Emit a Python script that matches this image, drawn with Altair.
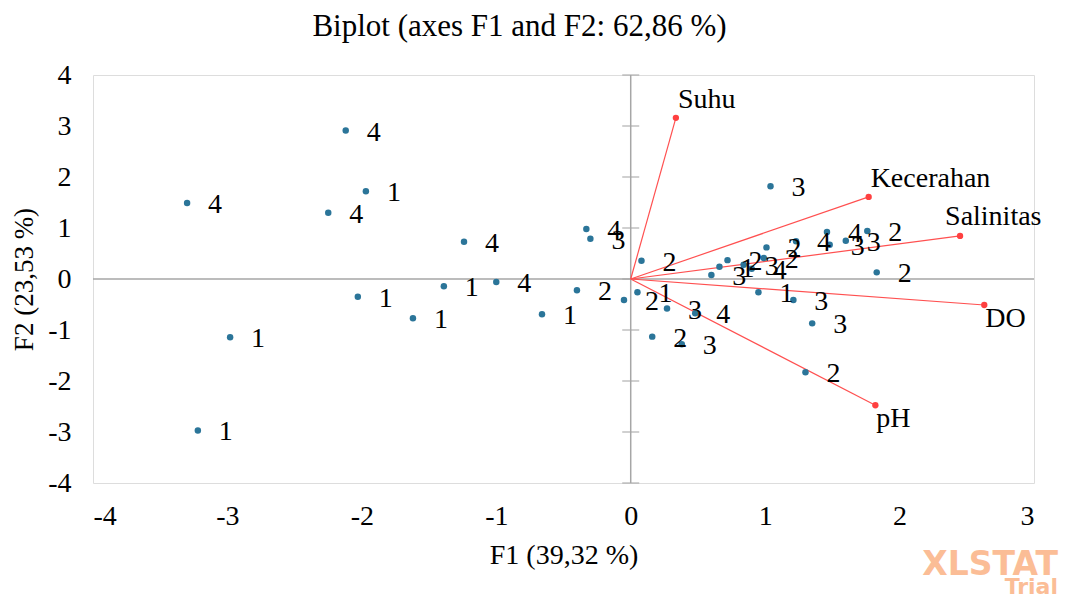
import altair as alt
import pandas as pd

# Observations (F1, F2, label)
obs_f1 = [-3.30, -2.12, -1.97, -2.25, -1.24, -2.03, -1.39, -1.00, -1.62, -2.98,
          -3.22, -0.66, -0.40, -0.33, -0.30, -0.05, 0.05, 0.08, 0.27, 0.48,
          0.16, 0.38, 0.60, 0.66, 0.72, 0.84, 0.90, 0.99, 1.01, 1.23,
          1.46, 1.48, 1.60, 1.76, 1.83, 0.95, 1.21, 1.35, 1.30, 1.04]
obs_f2 = [1.49, 2.91, 1.72, 1.30, 0.73, -0.35, -0.14, -0.06, -0.77, -1.14,
          -2.97, -0.69, -0.22, 0.98, 0.79, -0.41, -0.26, 0.36, -0.58, -0.67,
          -1.13, -1.28, 0.08, 0.24, 0.37, 0.28, 0.20, 0.41, 0.62, 0.74,
          0.92, 0.67, 0.75, 0.94, 0.13, -0.26, -0.41, -0.87, -1.83, 1.82]
obs_label = ["4", "4", "1", "4", "4", "1", "1", "4", "1", "1",
             "1", "1", "2", "4", "3", "2", "1", "2", "3", "4",
             "2", "3", "3", "1", "2", "3", "4", "2", "2", "4",
             "4", "3", "3", "2", "2", "1", "3", "3", "2", "3"]

# Variables (vectors)
var_names = ["Suhu", "Kecerahan", "Salinitas", "DO", "pH"]
var_f1 = [0.336, 1.77, 2.45, 2.63, 1.82]
var_f2 = [3.16, 1.61, 0.845, -0.51, -2.475]

tick_values = [-4, -3, -2, -1, 0, 1, 2, 3]
ytick_values = [-4, -3, -2, -1, 0, 1, 2, 3, 4]

obs = pd.DataFrame({"f1": obs_f1, "f2": obs_f2, "label": obs_label})
var = pd.DataFrame({"name": var_names, "f1": var_f1, "f2": var_f2})
var["x0"] = 0.0
var["y0"] = 0.0

FONT = "Times New Roman, Liberation Serif, serif"
GRID = "#a6a6a6"

xs = alt.Scale(domain=[-4, 3], nice=False, zero=False)
ys = alt.Scale(domain=[-4, 4], nice=False, zero=False)

xaxis = alt.Axis(values=tick_values, grid=False, ticks=False, domain=False,
                 labelExpr="'' + datum.value",
                 labelFont=FONT, labelFontSize=28, labelColor="black",
                 labelPadding=19, title="F1 (39,32 %)", titleFont=FONT,
                 titleFontSize=28, titleFontWeight="normal", titleColor="black",
                 titlePadding=11)
yaxis = alt.Axis(values=ytick_values, grid=False, ticks=False, domain=False,
                 labelExpr="'' + datum.value",
                 labelFont=FONT, labelFontSize=28, labelColor="black",
                 labelPadding=22, title="F2 (23,53 %)", titleFont=FONT,
                 titleFontSize=27, titleFontWeight="normal", titleColor="black",
                 titlePadding=9)

base_obs = alt.Chart(obs)

points = base_obs.mark_circle(size=42, color="#2b7599", opacity=1).encode(
    x=alt.X("f1:Q", scale=xs, axis=xaxis),
    y=alt.Y("f2:Q", scale=ys, axis=yaxis),
)
labels = base_obs.mark_text(font=FONT, fontSize=28, color="black",
                            align="center", baseline="middle", dx=28, dy=2).encode(
    x=alt.X("f1:Q", scale=xs), y=alt.Y("f2:Q", scale=ys), text="label:N")

# zero lines
zero_df = pd.DataFrame({"v": [0]})
vline = alt.Chart(zero_df).mark_rule(color=GRID, strokeWidth=1.5).encode(
    x=alt.X("v:Q", scale=xs))
hline = alt.Chart(zero_df).mark_rule(color=GRID, strokeWidth=1.5).encode(
    y=alt.Y("v:Q", scale=ys))
ticks_df = pd.DataFrame({"y": ytick_values, "x": [0] * len(ytick_values)})
yticks = alt.Chart(ticks_df).mark_tick(color=GRID, orient="horizontal",
                                       size=17, thickness=1.5).encode(
    x=alt.X("x:Q", scale=xs), y=alt.Y("y:Q", scale=ys))

base_var = alt.Chart(var)
vec = base_var.mark_rule(color="#ff5050", strokeWidth=1.2).encode(
    x=alt.X("x0:Q", scale=xs), y=alt.Y("y0:Q", scale=ys),
    x2="f1:Q", y2="f2:Q")
vec_pts = base_var.mark_circle(size=40, color="#ff4040", opacity=1).encode(
    x=alt.X("f1:Q", scale=xs), y=alt.Y("f2:Q", scale=ys))

def vlabel(names, dx, dy):
    return base_var.transform_filter(
        alt.FieldOneOfPredicate(field="name", oneOf=names)
    ).mark_text(font=FONT, fontSize=28, color="black", align="left",
                baseline="middle", dx=dx, dy=dy).encode(
        x=alt.X("f1:Q", scale=xs), y=alt.Y("f2:Q", scale=ys), text="name:N")

vl_up = vlabel(["Suhu", "Kecerahan"], 2, -18)
vl_sal = vlabel(["Salinitas"], -15, -19)
vl_down = vlabel(["DO", "pH"], 1, 14)

wm_df = pd.DataFrame({"t": ["XLSTAT"]})
wm1 = alt.Chart(wm_df).mark_text(font="DejaVu Sans", fontSize=33, fontWeight="bold",
                                  color="#fbbd96", align="right", baseline="middle").encode(
    x=alt.value(965), y=alt.value(490), text="t:N")
wm2 = alt.Chart(pd.DataFrame({"t": ["Trial"]})).mark_text(
    font="DejaVu Sans", fontSize=22, fontWeight="bold", color="#fbbd96",
    align="right", baseline="middle").encode(
    x=alt.value(965), y=alt.value(512), text="t:N")

chart = alt.layer(
    hline, vline, yticks, vec, vec_pts, points, labels, vl_up, vl_sal, vl_down, wm1, wm2
).properties(
    width=941, height=408,
    title=alt.TitleParams("Biplot (axes F1 and F2: 62,86 %)", font=FONT, fontSize=31,
                          fontWeight="normal", color="black", anchor="middle",
                          offset=18, dx=-44),
    autosize=alt.AutoSizeParams(type="none"),
    padding={"left": 85, "top": 67, "right": 25, "bottom": 115},
).configure_view(stroke="#bfbfbf", strokeWidth=1.5).configure(background="white")

chart.save("out.html", embed_options={"renderer": "svg", "actions": False})
